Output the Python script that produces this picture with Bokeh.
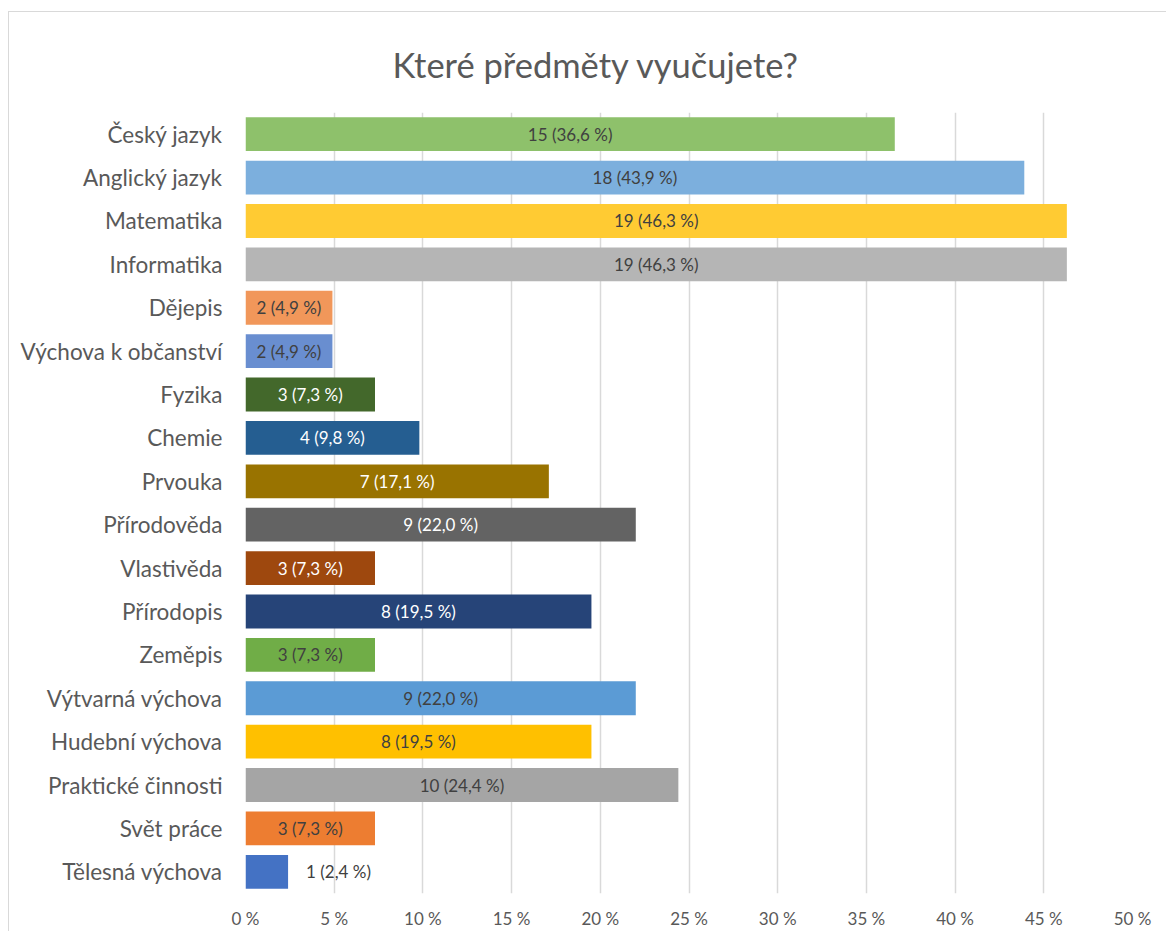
from bokeh.plotting import figure
from bokeh.models import FactorRange, FixedTicker, ColumnDataSource, Range1d
from bokeh.core.properties import value
from bokeh.embed import file_html
from bokeh.resources import INLINE

title = "Které předměty vyučujete?"
subjects = ["Český jazyk", "Anglický jazyk", "Matematika", "Informatika", "Dějepis",
            "Výchova k občanství", "Fyzika", "Chemie", "Prvouka", "Přírodověda",
            "Vlastivěda", "Přírodopis", "Zeměpis", "Výtvarná výchova", "Hudební výchova",
            "Praktické činnosti", "Svět práce", "Tělesná výchova"]
counts = [15, 18, 19, 19, 2, 2, 3, 4, 7, 9, 3, 8, 3, 9, 8, 10, 3, 1]
percents = [36.6, 43.9, 46.3, 46.3, 4.9, 4.9, 7.3, 9.8, 17.1, 22.0, 7.3, 19.5, 7.3,
            22.0, 19.5, 24.4, 7.3, 2.4]
colors = ["#8ec16b", "#7cafdd", "#ffcb33", "#b5b5b5", "#f1975a", "#698ed0", "#43682b",
          "#255e91", "#997300", "#636363", "#9e480e", "#264478", "#70ad47", "#5b9bd5",
          "#ffc000", "#a5a5a5", "#ed7d31", "#4472c4"]
x_ticks = [0, 5, 10, 15, 20, 25, 30, 35, 40, 45, 50]
x_tick_labels = ["0 %", "5 %", "10 %", "15 %", "20 %", "25 %", "30 %", "35 %", "40 %", "45 %", "50 %"]

FONT = "Lato"
TXT = "#595959"


def lum(h):
    r, g, b = int(h[1:3], 16), int(h[3:5], 16), int(h[5:7], 16)
    return 0.299 * r + 0.587 * g + 0.114 * b


labels, lx, xo, align, tcol = [], [], [], [], []
for c, pc, col in zip(counts, percents, colors):
    labels.append(f"{c} ({pc:.1f} %)".replace(".", ","))
    if pc < 4:
        lx.append(pc); xo.append(18); align.append("left"); tcol.append("#404040")
    else:
        lx.append(pc / 2); xo.append(0); align.append("center")
        tcol.append("#ffffff" if lum(col) < 125 else "#404040")

src = ColumnDataSource(dict(subject=subjects, pct=percents, color=colors, label=labels,
                            lx=lx, xo=xo, align=align, tcol=tcol))

p = figure(y_range=FactorRange(factors=subjects[::-1]), x_range=Range1d(0, 50),
           frame_width=887, frame_height=781,
           min_border_left=236, min_border_right=34, min_border_top=100, min_border_bottom=38,
           output_backend="svg", toolbar_location=None, title=title)
p.styles = {"border-top": "1px solid #d9d9d9", "border-left": "1px solid #d9d9d9",
            "margin-left": "8px", "margin-top": "11px"}
p.outline_line_color = None
p.background_fill_color = "white"
p.border_fill_color = "white"

p.title.align = "left"
p.title.offset = 147
p.title.text_font = FONT
p.title.text_font_size = "34.5px"
p.title.text_font_style = "normal"
p.title.text_color = TXT
p.title.standoff = 56

p.hbar(y="subject", left=0, right="pct", height=0.78, fill_color="color",
       line_color=None, source=src)
p.text(x="lx", y="subject", text="label", x_offset="xo", text_align="align",
       text_baseline="middle", text_color="tcol", text_font=value(FONT),
       text_font_size="17px", source=src)

p.xaxis.ticker = FixedTicker(ticks=x_ticks)
p.xaxis.major_label_overrides = {t: l for t, l in zip(x_ticks, x_tick_labels)}
for ax in (p.xaxis, p.yaxis):
    ax.axis_line_color = None
    ax.major_tick_line_color = None
    ax.minor_tick_line_color = None
    ax.major_label_text_color = TXT
    ax.major_label_text_font = FONT
p.xaxis.major_label_text_font_size = "17px"
p.xaxis.major_label_standoff = 8
p.yaxis.major_label_text_font_size = "22.5px"
p.yaxis.major_label_standoff = 17

p.xgrid.grid_line_color = "#d9d9d9"
p.xgrid.grid_line_width = 1.5
p.ygrid.grid_line_color = None

open("out.html", "w").write(file_html(p, INLINE))
